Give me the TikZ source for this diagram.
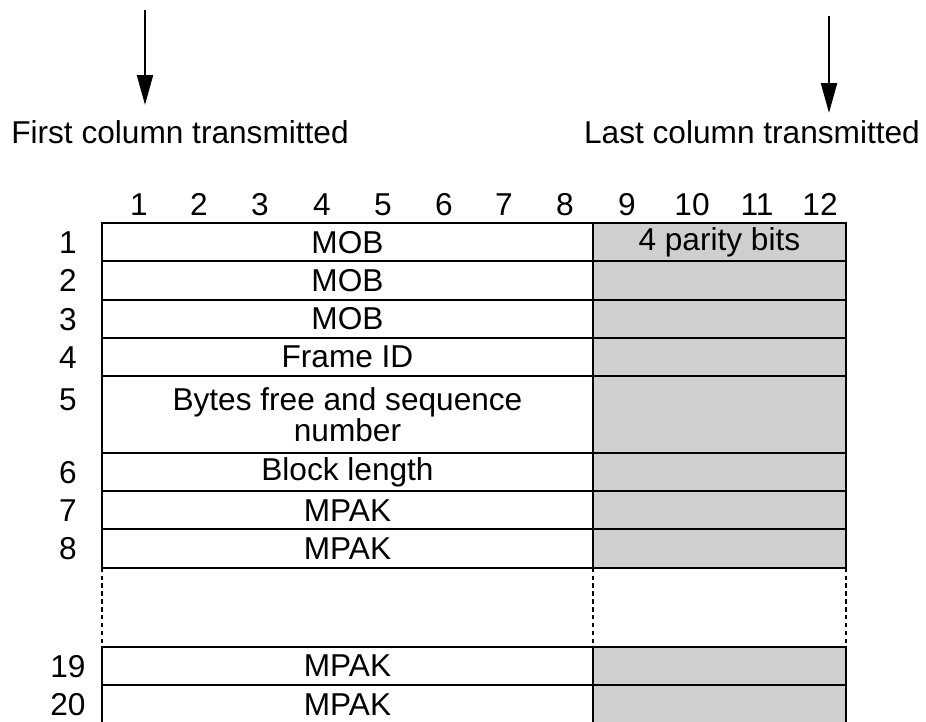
\documentclass[tikz,border=0pt]{standalone}
\usepackage{fontspec}
\setmainfont{Liberation Sans}
\usetikzlibrary{arrows.meta, positioning, calc}

\begin{document}
\begin{tikzpicture}[
  x=0.02cm, y=-0.02cm,
  font=\fontsize{18}{17.5}\selectfont,
  data/.style={draw, line width=1.1pt, minimum width=9.82cm, minimum height=0.766cm,
    inner sep=0pt, outer sep=0pt, align=center},
  parity/.style={data, fill=gray!38, minimum width=5.06cm},
  tall/.style={minimum height=1.532cm},
  num/.style={inner sep=0pt, text height=12.9pt, text depth=0pt},
  gap/.style={line width=0.8pt, dash pattern=on 2.5pt off 2pt},
  arr/.style={-{Triangle[length=17pt, width=9pt]}, line width=1.4pt},
]
  \useasboundingbox (0,0) rectangle (926,721);

  % Labels and arrows on top
  \node[inner sep=0pt] (first) at (180,132) {First column transmitted};
  \node[inner sep=0pt] (last) at (752,132) {Last column transmitted};
  \coordinate (ftop) at (145,10);
  \coordinate (fend) at (145,105);
  \coordinate (ltop) at (829,16);
  \coordinate (lend) at (829,113);
  \draw[arr] (ftop) -- (fend);
  \draw[arr] (ltop) -- (lend);

  % Column numbers
  \foreach \n/\x in {1/139, 2/199, 3/260, 4/322, 5/383, 6/444, 7/504, 8/565,
                     9/627, 10/692, 11/757, 12/820}
    \node[num, anchor=base] (c\n) at (\x,215) {\n};

  % Left part of the frame
  \node[data, anchor=north west] (m1) at (102,223) {MOB};
  \node[data, below=0pt of m1] (m2) {MOB};
  \node[data, below=0pt of m2] (m3) {MOB};
  \node[data, below=0pt of m3] (m4) {Frame ID};
  \node[data, tall, below=0pt of m4] (m5) {Bytes free and sequence\\number};
  \node[data, below=0pt of m5] (m6) {Block length};
  \node[data, below=0pt of m6] (m7) {MPAK};
  \node[data, below=0pt of m7] (m8) {MPAK};
  \node[data, below=1.586cm of m8] (m19) {MPAK};
  \node[data, below=0pt of m19] (m20) {MPAK};

  % Parity columns
  \node[parity, right=0pt of m1] (p1) {4 parity bits};
  \foreach \r in {2,3,4,6,7,8,19,20}
    \node[parity, right=0pt of m\r] (p\r) {};
  \node[parity, tall, right=0pt of m5] (p5) {};

  % Row numbers
  \coordinate (numx) at (68,0);
  \foreach \r in {1,2,3,4,6,7,8,19,20}
    \node[num] (r\r) at (m\r.west -| numx) {\r};
  \node[num] (r5) at ($(m5.west -| numx)+(0,-15)$) {5};

  % Gap between row 8 and row 19
  \draw[gap] (m8.south west) -- (m19.north west);
  \draw[gap] (m8.south east) -- (m19.north east);
  \draw[gap] (p8.south east) -- (p19.north east);

\end{tikzpicture}
\end{document}
